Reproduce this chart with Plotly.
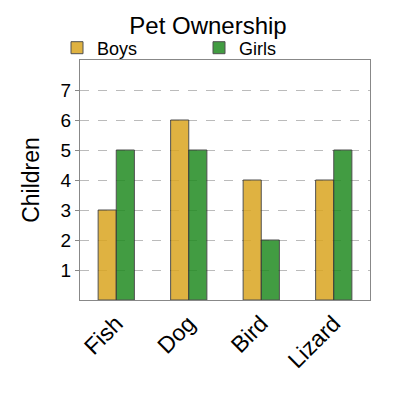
import plotly.graph_objects as go

categories = ["Fish", "Dog", "Bird", "Lizard"]
boys = [3, 6, 4, 4]
girls = [5, 5, 2, 5]
y_ticks = [1, 2, 3, 4, 5, 6, 7]

fig = go.Figure()
fig.add_trace(go.Bar(x=categories, y=boys, name="Boys",
                     marker=dict(color="#DAA520", line=dict(color="#333333", width=1)),
                     opacity=0.85))
fig.add_trace(go.Bar(x=categories, y=girls, name="Girls",
                     marker=dict(color="#228B22", line=dict(color="#333333", width=1)),
                     opacity=0.85))

fig.update_layout(
    width=400, height=400,
    margin=dict(l=72, r=38, t=52, b=108, autoexpand=False),
    paper_bgcolor="white", plot_bgcolor="white",
    font=dict(family="Liberation Sans, Arial, sans-serif", color="black"),
    title=dict(text="Pet Ownership", x=0.5, xanchor="center", y=0.955, yanchor="middle",
               font=dict(size=24)),
    barmode="group", bargap=0.5, bargroupgap=0,
    showlegend=True,
    legend=dict(orientation="h", xref="container", yref="container",
                x=0.1225, xanchor="left", y=0.9, yanchor="middle",
                font=dict(size=18), entrywidth=97, entrywidthmode="pixels",
                bgcolor="rgba(0,0,0,0)", itemclick=False, tracegroupgap=0,
                itemwidth=30),
    xaxis=dict(tickangle=-45, tickfont=dict(size=23), showline=True, linecolor="#888888",
               linewidth=1, mirror=True, ticks=""),
    yaxis=dict(range=[0, 8], tickvals=y_ticks, tickfont=dict(size=19),
               title=dict(text="Children", font=dict(size=23), standoff=14),
               showgrid=True, gridcolor="#BBBBBB", griddash="dash", gridwidth=1,
               showline=True, linecolor="#888888", linewidth=1, mirror=True,
               ticks="outside", ticklen=4, tickcolor="#888888", zeroline=False),
)

fig.write_html("out.html")
